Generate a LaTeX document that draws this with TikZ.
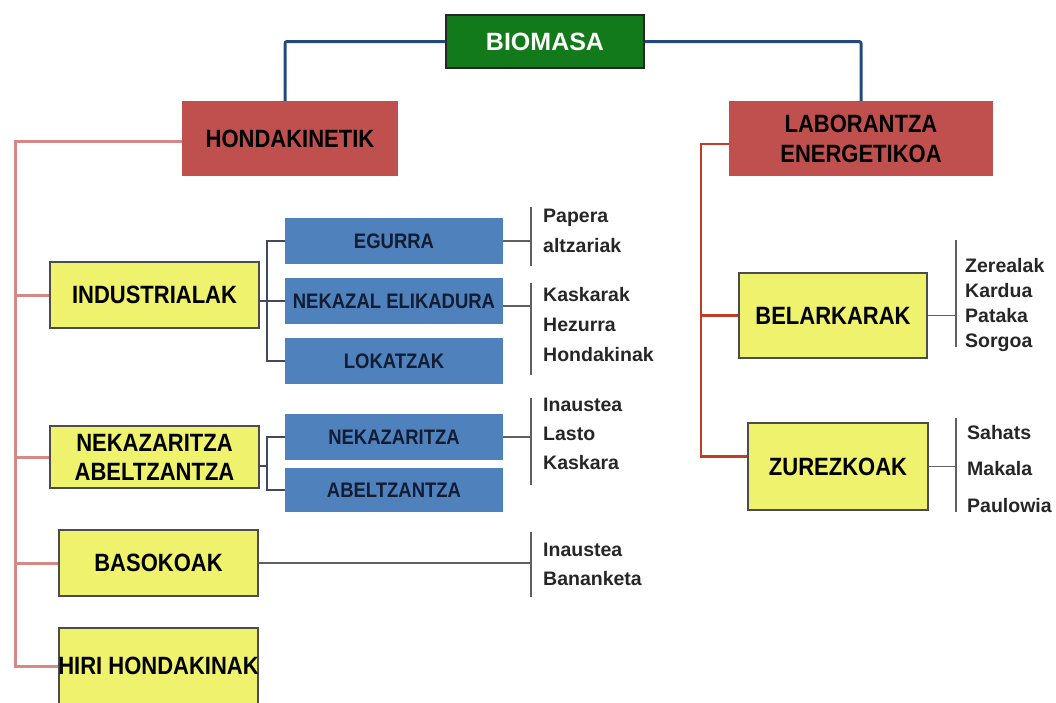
\documentclass[tikz,border=0pt]{standalone}
\usepackage{fontspec}
\setmainfont{Liberation Sans}
\newfontfamily\narrowsf{Liberation Sans}[FakeStretch=0.88]

\definecolor{biogreen}{RGB}{18,122,26}
\definecolor{boxred}{RGB}{192,80,77}
\definecolor{boxblue}{RGB}{79,129,189}
\definecolor{boxyellow}{RGB}{238,242,108}
\definecolor{topblue}{RGB}{36,74,124}
\definecolor{pinkline}{RGB}{214,136,134}
\definecolor{rustline}{RGB}{192,62,38}
\definecolor{navytext}{RGB}{18,28,50}
\definecolor{slateline}{RGB}{62,74,96}
\definecolor{listgray}{RGB}{96,96,96}

\tikzstyle{rootbox}=[fill=biogreen, draw=black!85, line width=1.2pt, inner sep=0pt, text=white, font=\bfseries\fontsize{25}{29}\selectfont]
\tikzstyle{redbox}=[fill=boxred, inner sep=0pt, align=center, font=\narrowsf\bfseries\fontsize{25}{30}\selectfont]
\tikzstyle{yellowbox}=[fill=boxyellow, draw=black!70, line width=1.2pt, inner sep=0pt, align=center, font=\narrowsf\bfseries\fontsize{25}{29}\selectfont]
\tikzstyle{bluebox}=[fill=boxblue, inner sep=0pt, minimum width=218pt, text=navytext, font=\narrowsf\bfseries\fontsize{21}{25}\selectfont]
\tikzstyle{items}=[anchor=north west, inner sep=0pt, align=left, text=black!85, font=\bfseries\fontsize{19.5}{30}\selectfont]
\tikzstyle{mainline}=[topblue, line width=3pt, rounded corners=2pt]
\tikzstyle{leftline}=[pinkline, line width=3pt]
\tikzstyle{rightline}=[rustline, line width=2.5pt]
\tikzstyle{brkline}=[slateline, line width=1.5pt]
\tikzstyle{itemline}=[listgray, line width=1.4pt]

\begin{document}
\begin{tikzpicture}[x=1pt, y=-1pt]
	\useasboundingbox (0,0) rectangle (1056,702);

	\node[rootbox, minimum width=198pt, minimum height=53pt] (bio) at (545,41.5) {BIOMASA};
	\node[redbox, minimum width=216pt, minimum height=75pt] (hond) at (290,138.5) {HONDAKINETIK};
	\node[redbox, minimum width=264pt, minimum height=75pt] (labor) at (861,138.5) {LABORANTZA\\ENERGETIKOA};

	\node[yellowbox, minimum width=209pt, minimum height=66pt] (indus) at (154.5,295) {INDUSTRIALAK};
	\node[yellowbox, minimum width=209pt, minimum height=62pt] (nekab) at (154.5,457) {NEKAZARITZA\\ABELTZANTZA};
	\node[yellowbox, minimum width=199pt, minimum height=66pt] (baso) at (158.5,563) {BASOKOAK};
	\node[yellowbox, minimum width=199pt, minimum height=76pt] (hiri) at (158.5,666) {\makebox[0pt]{HIRI HONDAKINAK}};

	\node[bluebox, minimum height=45.5pt] (egur) at (394,241) {EGURRA};
	\node[bluebox, minimum height=46pt] (nekel) at (394,301) {NEKAZAL ELIKADURA};
	\node[bluebox, minimum height=46pt] (lokatz) at (394,361) {LOKATZAK};
	\node[bluebox, minimum height=45.5pt] (nekaz) at (394,437) {NEKAZARITZA};
	\node[bluebox, minimum height=44pt] (abel) at (394,490) {ABELTZANTZA};

	\node[yellowbox, minimum width=188pt, minimum height=85pt] (bel) at (833,315.5) {BELARKARAK};
	\node[yellowbox, minimum width=180pt, minimum height=87pt] (zur) at (838,466.5) {ZUREZKOAK};

	\node[items] (l1) at (543,209) {Papera\\altzariak};
	\node[items] (l2) at (543,287) {Kaskarak\\Hezurra\\Hondakinak};
	\node[items, font=\bfseries\fontsize{19.5}{29}\selectfont] (l3) at (543,398) {Inaustea\\Lasto\\Kaskara};
	\node[items, font=\bfseries\fontsize{19.5}{29}\selectfont] (l4) at (543,543) {Inaustea\\Bananketa};
	\node[items, font=\bfseries\fontsize{19.5}{25}\selectfont] (l5) at (965,258) {Zerealak\\Kardua\\Pataka\\Sorgoa};
	\node[items, font=\bfseries\fontsize{19.5}{36.5}\selectfont] (l6) at (967,425) {Sahats\\Makala\\Paulowia};

	\draw[mainline] (bio.west) -| ([xshift=-5pt]hond.north);
	\draw[mainline] (bio.east) -| (labor.north);

	\coordinate (ltrunk) at (15,141);
	\draw[leftline] (hond.west |- ltrunk) -- (ltrunk) -- (ltrunk |- hiri.west) -- (hiri.west);
	\draw[leftline] (ltrunk |- indus.west) -- (indus.west);
	\draw[leftline] (ltrunk |- nekab.west) -- (nekab.west);
	\draw[leftline] (ltrunk |- baso.west) -- (baso.west);

	\coordinate (rtrunk) at (701,144);
	\coordinate (zurin) at ([yshift=10pt]zur.west);
	\draw[rightline] (labor.west |- rtrunk) -- (rtrunk) -- (rtrunk |- zurin) -- (zurin);
	\draw[rightline] (rtrunk |- bel.west) -- (bel.west);

	\coordinate (ibrk) at (267,0);
	\coordinate (nbrk) at (267,466);
	\draw[brkline] (egur.west) -| (ibrk |- lokatz.west) -- (lokatz.west);
	\draw[brkline] (indus.east |- nekel.west) -- (nekel.west);
	\draw[brkline] (nekaz.west) -| (ibrk |- abel.west) -- (abel.west);
	\draw[brkline] (nekab.east |- nbrk) -- (nbrk);

	\coordinate (b1t) at (531,207);
	\coordinate (b1b) at (531,266);
	\coordinate (b2t) at (531,283);
	\coordinate (b2m) at (531,306);
	\coordinate (b2b) at (531,375);
	\coordinate (b3t) at (531,398);
	\coordinate (b3b) at (531,485);
	\coordinate (b4t) at (531,532);
	\coordinate (b4b) at (531,597);
	\coordinate (b5t) at (956,240);
	\coordinate (b5b) at (956,347);
	\coordinate (b6t) at (956,418);
	\coordinate (b6b) at (956,512);

	\draw[itemline] (b1t) -- (b1b);
	\draw[itemline] (b2t) -- (b2b);
	\draw[itemline] (b3t) -- (b3b);
	\draw[itemline] (b4t) -- (b4b);
	\draw[itemline] (b5t) -- (b5b);
	\draw[itemline] (b6t) -- (b6b);

	\draw[itemline] (egur.east) -- (egur.east -| b1t);
	\draw[itemline] (nekel.east |- b2m) -- (b2m);
	\draw[itemline] (nekaz.east) -- (nekaz.east -| b3t);
	\draw[itemline] (baso.east) -- (baso.east -| b4t);
	\draw[itemline] (bel.east) -- (bel.east -| b5t);
	\draw[itemline] (zur.east) -- (zur.east -| b6t);
\end{tikzpicture}
\end{document}
